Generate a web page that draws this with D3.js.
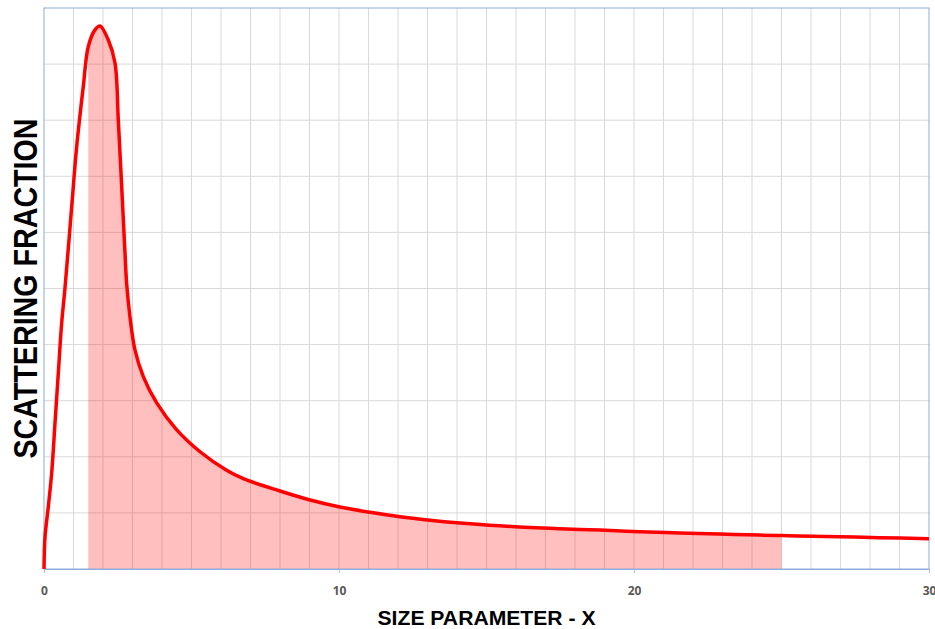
<!doctype html>
<html lang="en">
<head>
<meta charset="UTF-8">
<script src="https://cdn.jsdelivr.net/npm/d3@7"></script>
<title>Scattering fraction</title>
<style>
    body { margin: 0; background: #fff; }
    svg { display: block; }
</style>
</head>
<body>
<div id="chart"></div>
<script>
    // values
    var sizeX = [0, 0.034, 0.146, 0.26, 0.373, 0.485, 0.6, 0.712, 0.939, 1.108, 1.332, 1.5, 1.729, 1.898,
        2.18, 2.407, 2.519, 2.634, 2.746, 2.8, 2.915, 3.085, 3.366, 3.82, 4.5, 5.29, 6.19, 6.76,
        8.0, 9.02, 10.03, 11.05, 12.07, 13.08, 14.1, 15.1, 16.1, 17.15, 18.17, 18.85, 20.2,
        21.56, 22.9, 24.27, 25.0, 25.6, 26.98, 28.3, 30];
    var fraction = [0, 0.057, 0.111, 0.171, 0.26, 0.349, 0.439, 0.501, 0.646, 0.753, 0.86, 0.931, 0.961, 0.968,
        0.943, 0.902, 0.8, 0.681, 0.563, 0.51, 0.449, 0.39, 0.343, 0.296, 0.248, 0.209, 0.176, 0.161,
        0.139, 0.123, 0.1105, 0.101, 0.093, 0.087, 0.082, 0.078, 0.075, 0.0725, 0.0705, 0.0693, 0.0666,
        0.0642, 0.0622, 0.0604, 0.0597, 0.0589, 0.0576, 0.0559, 0.054];
    var xTicks = [0, 10, 20, 30];
    var shadeFrom = 1.5, shadeTo = 25;

    var data = sizeX.map(function (d, i) { return {x: d, y: fraction[i]}; });

    var W = 935, H = 629;
    var margin = {top: 8, right: 6, bottom: 60, left: 44};
    var width = W - margin.left - margin.right,
        height = H - margin.top - margin.bottom;

    var svg = d3.select("#chart").append("svg")
        .attr("width", W).attr("height", H);
    var g = svg.append("g")
        .attr("transform", "translate(" + margin.left + "," + margin.top + ")");

    var x = d3.scaleLinear().domain([0, 30]).range([0, width]);
    var y = d3.scaleLinear().domain([0, 1]).range([height, 0]);

    // grid
    g.append("g").selectAll("line").data(d3.range(1, 30)).enter().append("line")
        .attr("x1", function (d) { return x(d); }).attr("x2", function (d) { return x(d); })
        .attr("y1", 0).attr("y2", height)
        .attr("stroke", "#d9d9d9").attr("stroke-width", 1);
    g.append("g").selectAll("line").data(d3.range(1, 10).map(function (d) { return d / 10; }))
        .enter().append("line")
        .attr("x1", 0).attr("x2", width)
        .attr("y1", function (d) { return y(d); }).attr("y2", function (d) { return y(d); })
        .attr("stroke", "#d9d9d9").attr("stroke-width", 1);

    var curve = d3.curveCatmullRom.alpha(0.5);

    // shaded part
    var shaded = data.filter(function (d) { return d.x >= shadeFrom && d.x <= shadeTo; });
    g.append("path").datum(shaded)
        .attr("fill", "#ff0000").attr("fill-opacity", 0.25)
        .attr("d", d3.area()
            .x(function (d) { return x(d.x); })
            .y0(height)
            .y1(function (d) { return y(d.y); })
            .curve(curve));

    // frame
    g.append("rect").attr("width", width).attr("height", height)
        .attr("fill", "none").attr("stroke", "#8faadc").attr("stroke-width", 1);

    // x axis
    var xAxis = g.append("g").attr("transform", "translate(0," + height + ")")
        .call(d3.axisBottom(x).tickValues(xTicks).tickSize(4).tickPadding(13));
    xAxis.select(".domain").attr("stroke", "#8faadc");
    xAxis.selectAll(".tick line").attr("stroke", "#bfbfbf");
    xAxis.selectAll("text")
        .attr("font-family", "'Open Sans', sans-serif").attr("font-size", 12)
        .attr("font-weight", "bold").attr("fill", "#595959");

    // curve
    g.append("path").datum(data)
        .attr("fill", "none").attr("stroke", "#ff0000").attr("stroke-width", 3.5)
        .attr("stroke-linejoin", "round")
        .attr("d", d3.line()
            .x(function (d) { return x(d.x); })
            .y(function (d) { return y(d.y); })
            .curve(curve));

    // titles
    svg.append("text")
        .attr("x", margin.left + width / 2).attr("y", 625)
        .attr("text-anchor", "middle")
        .attr("font-family", "'Liberation Sans', Arial, sans-serif")
        .attr("font-size", 21).attr("font-weight", "bold").attr("fill", "#000")
        .attr("textLength", 218).attr("lengthAdjust", "spacingAndGlyphs")
        .text("SIZE PARAMETER - X");
    svg.append("text")
        .attr("transform", "translate(37," + (margin.top + height / 2) + ") rotate(-90)")
        .attr("text-anchor", "middle")
        .attr("font-family", "'Liberation Sans', Arial, sans-serif")
        .attr("font-size", 33).attr("font-weight", "bold").attr("fill", "#000")
        .attr("textLength", 340).attr("lengthAdjust", "spacingAndGlyphs")
        .text("SCATTERING FRACTION");
</script>
</body>
</html>
